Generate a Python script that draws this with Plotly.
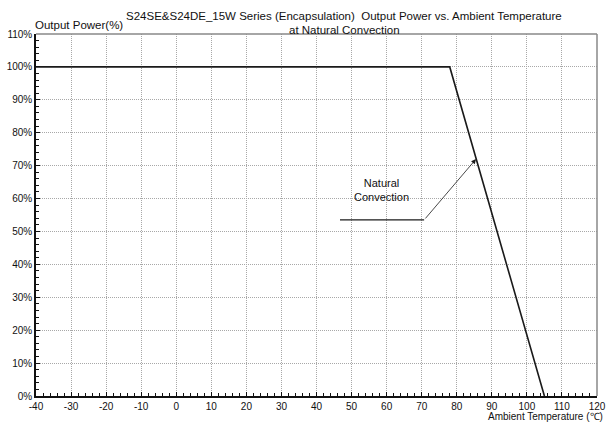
import plotly.graph_objects as go

temp = [-40, 78, 105]
power = [100, 100, 0]

callout_x = [46.7, 70.7]
callout_y = [53.5, 53.5]
arrow_tip = (85.5, 72.0)
label_pos = (58.4, 62.6)

x_ticks = list(range(-40, 121, 10))
y_ticks = list(range(0, 111, 10))
y_labels = [f"{v}%" for v in y_ticks]

title_line1 = "S24SE&amp;S24DE_15W Series (Encapsulation)  Output Power vs. Ambient Temperature"
title_line2 = "at Natural Convection"

FONT = "Liberation Sans, Arial, sans-serif"

W, H = 607, 423
L, R, T, B = 36, 10, 34, 27
pw, ph = W - L - R, H - T - B


def px(xp):
    return (xp - L) / pw


def py(yp):
    return (H - B - yp) / ph


fig = go.Figure()
fig.add_trace(go.Scatter(x=temp, y=power, mode="lines",
                         line=dict(color="#1a1a1a", width=1.6), hoverinfo="skip"))
fig.add_trace(go.Scatter(x=callout_x, y=callout_y, mode="lines",
                         line=dict(color="#1a1a1a", width=1.2), hoverinfo="skip"))

common_axis = dict(showline=True, linecolor="#111", linewidth=1.5, mirror=False,
                   ticks="inside", ticklen=4, tickcolor="#111", tickwidth=1,
                   showgrid=True, gridcolor="#a8a8a8", griddash="1px,1px", gridwidth=1,
                   zeroline=False, automargin=False,
                   tickfont=dict(family=FONT, size=10, color="#111"))

fig.update_xaxes(range=[-40, 120], tickvals=x_ticks, ticktext=[str(v) for v in x_ticks],
                 minor=dict(dtick=2, tick0=0, ticks="inside", ticklen=3, tickcolor="#111",
                            showgrid=False),
                 **common_axis)
fig.update_yaxes(range=[0, 110], tickvals=y_ticks, ticktext=y_labels,
                 minor=dict(dtick=2, tick0=0, ticks="inside", ticklen=3, tickcolor="#111",
                            showgrid=False),
                 **common_axis)

fig.add_shape(type="line", xref="paper", yref="paper", x0=0, x1=1, y0=1, y1=1,
              line=dict(color="#888", width=1.5))
fig.add_shape(type="line", xref="paper", yref="paper", x0=1, x1=1, y0=0, y1=1,
              line=dict(color="#888", width=1.5))

annots = [
    dict(x=arrow_tip[0], y=arrow_tip[1], ax=callout_x[1], ay=callout_y[1],
         xref="x", yref="y", axref="x", ayref="y", text="",
         showarrow=True, arrowhead=2, arrowsize=1.2, arrowwidth=0.8,
         arrowcolor="#1a1a1a", standoff=0, startstandoff=0),
    dict(x=label_pos[0], y=label_pos[1], xref="x", yref="y",
         text="Natural<br>Convection", showarrow=False,
         font=dict(family=FONT, size=11, color="#111"), align="center"),
    dict(x=px(344), y=py(16), xref="paper", yref="paper", text=title_line1,
         showarrow=False, xanchor="center", yanchor="middle",
         font=dict(family=FONT, size=11.5, color="#111")),
    dict(x=px(344), y=py(30), xref="paper", yref="paper", text=title_line2,
         showarrow=False, xanchor="center", yanchor="middle",
         font=dict(family=FONT, size=11.5, color="#111")),
    dict(x=px(33), y=py(25), xref="paper", yref="paper", text="Output Power(%)",
         showarrow=False, xanchor="left", yanchor="middle",
         font=dict(family=FONT, size=11.5, color="#111")),
    dict(x=px(605), y=py(416.5), xref="paper", yref="paper",
         text="Ambient Temperature (℃)",
         showarrow=False, xanchor="right", yanchor="middle",
         font=dict(family=FONT, size=10, color="#111")),
]

fig.update_layout(
    width=W, height=H,
    margin=dict(l=L, r=R, t=T, b=B, autoexpand=False),
    paper_bgcolor="white", plot_bgcolor="white",
    showlegend=False,
    font=dict(family=FONT, size=10, color="#111"),
    annotations=annots,
)

fig.write_html("out.html", config={"displayModeBar": False},
               post_script="document.body.style.margin='0';document.body.style.overflow='hidden';")
